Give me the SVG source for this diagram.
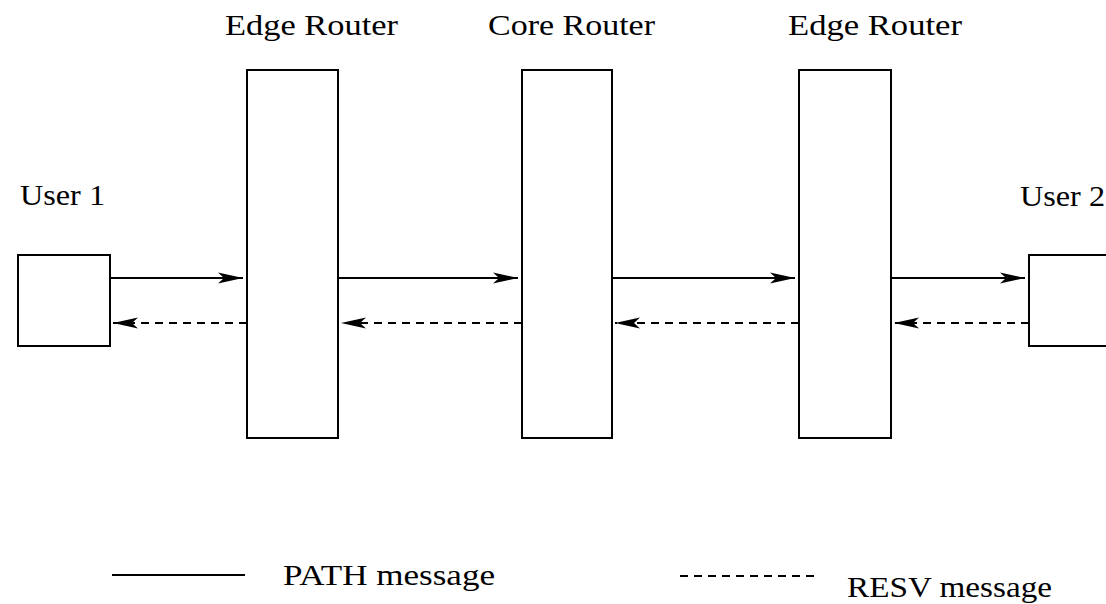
<svg xmlns="http://www.w3.org/2000/svg" width="1106" height="604" viewBox="0 0 1106 604">
<defs>
<style>
.box{fill:#fff;stroke:#000;stroke-width:2}
.lbl{font-family:"Liberation Serif",serif;font-size:30px;fill:#000}
.path{stroke:#000;stroke-width:2;fill:none}
.resv{stroke:#000;stroke-width:2;fill:none;stroke-dasharray:8,6}
</style>
<marker id="ah" markerUnits="userSpaceOnUse" markerWidth="28" markerHeight="14" refX="25" refY="7" orient="auto">
<path d="M0,1.5 L25,7 L0,12.5 L6,7 Z" fill="#000"/>
</marker>
</defs>
<rect width="1106" height="604" fill="#fff"/>
<g id="user1"><rect class="box" x="18" y="255" width="92" height="91"/><text class="lbl" x="20" y="205" textLength="85" lengthAdjust="spacingAndGlyphs">User 1</text></g>
<g id="edge1"><rect class="box" x="247" y="70" width="91" height="368"/><text class="lbl" x="225" y="35" textLength="173" lengthAdjust="spacingAndGlyphs">Edge Router</text></g>
<g id="core"><rect class="box" x="522" y="70" width="90" height="368"/><text class="lbl" x="488" y="35" textLength="167" lengthAdjust="spacingAndGlyphs">Core Router</text></g>
<g id="edge2"><rect class="box" x="799" y="70" width="92" height="368"/><text class="lbl" x="788" y="35" textLength="174" lengthAdjust="spacingAndGlyphs">Edge Router</text></g>
<g id="user2"><rect class="box" x="1029" y="255" width="90" height="91"/><text class="lbl" x="1020" y="206" textLength="85" lengthAdjust="spacingAndGlyphs">User 2</text></g>
<g id="connectors">
<line class="path" x1="110" y1="278" x2="243" y2="278" marker-end="url(#ah)"/>
<line class="path" x1="338" y1="278" x2="518" y2="278" marker-end="url(#ah)"/>
<line class="path" x1="612" y1="278" x2="795" y2="278" marker-end="url(#ah)"/>
<line class="path" x1="891" y1="278" x2="1025" y2="278" marker-end="url(#ah)"/>
<line class="resv" x1="247" y1="323" x2="113" y2="323" marker-end="url(#ah)"/>
<line class="resv" x1="522" y1="323" x2="341" y2="323" marker-end="url(#ah)"/>
<line class="resv" x1="799" y1="323" x2="615" y2="323" marker-end="url(#ah)"/>
<line class="resv" x1="1029" y1="323" x2="894" y2="323" marker-end="url(#ah)"/>
</g>
<g id="legend">
<line class="path" x1="112" y1="575" x2="245" y2="575"/>
<text class="lbl" x="283" y="585" textLength="212" lengthAdjust="spacingAndGlyphs">PATH message</text>
<line class="resv" x1="680" y1="576" x2="818" y2="576" stroke-dasharray="8,5"/>
<text class="lbl" x="847" y="597" textLength="205" lengthAdjust="spacingAndGlyphs">RESV message</text>
</g>
</svg>
